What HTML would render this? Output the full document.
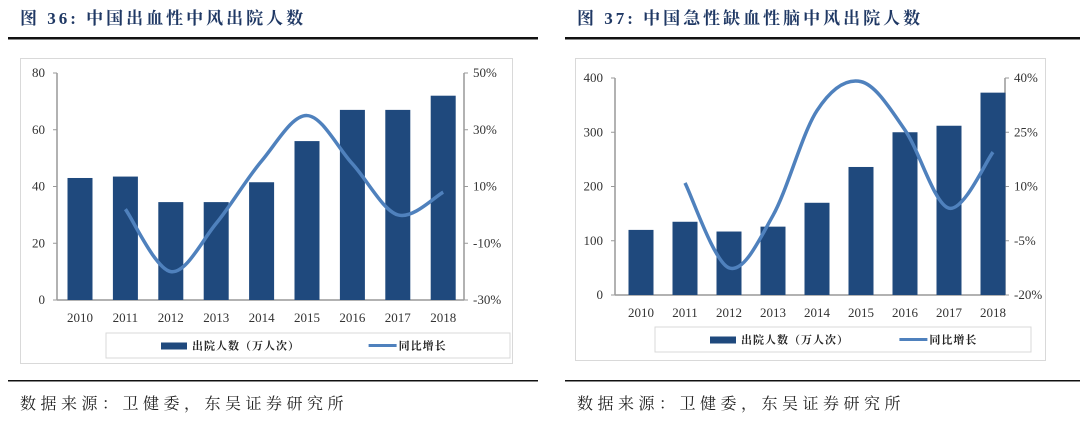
<!DOCTYPE html>
<html><head><meta charset="utf-8"><style>
body{margin:0;width:1080px;height:422px;background:#fff;overflow:hidden;font-family:"Liberation Serif","Noto Serif CJK SC",serif}
svg{position:absolute;left:0;top:0}
</style></head><body>
<svg id="s" width="1080" height="422" xmlns="http://www.w3.org/2000/svg" font-family="Liberation Serif, Noto Serif CJK SC, serif">
<text x="20" y="24" font-size="17" font-weight="bold" fill="#1f3864" letter-spacing="3">图 36:  中国出血性中风出院人数</text>
<text x="577" y="24" font-size="17" font-weight="bold" fill="#1f3864" letter-spacing="3">图 37:  中国急性缺血性脑中风出院人数</text>
<rect x="8" y="37" width="530" height="2.5" fill="#111"/>
<rect x="565" y="37" width="515" height="2.5" fill="#111"/>
<rect x="20.5" y="58.5" width="492" height="305" fill="none" stroke="#d9d9d9"/>
<rect x="575.5" y="58.5" width="470" height="302" fill="none" stroke="#d9d9d9"/>
<rect x="8" y="380" width="530" height="1.5" fill="#111"/>
<rect x="565" y="380" width="515" height="1.5" fill="#111"/>
<text x="20" y="409" font-size="16" fill="#222" letter-spacing="4.5">数据来源：卫健委，东吴证券研究所</text>
<text x="577" y="409" font-size="16" fill="#222" letter-spacing="4.5">数据来源：卫健委，东吴证券研究所</text>
<g id="g"></g>
</svg>
<script>
const g=document.getElementById('g');let h='';
function chart(o){
 const {ax,rx,top,bot,x0,dx,bw,lmax,lticks,rmin,rmax,rticks,bars,line,leg}=o;
 h+=`<line x1="${ax}" y1="${top}" x2="${ax}" y2="${bot}" stroke="#999" stroke-width="1.5"/>`;
 h+=`<line x1="${rx}" y1="${top}" x2="${rx}" y2="${bot}" stroke="#999" stroke-width="1.5"/>`;
 h+=`<line x1="${ax}" y1="${bot}" x2="${rx}" y2="${bot}" stroke="#999" stroke-width="1.5"/>`;
 lticks.forEach(v=>{const y=bot-(bot-top)*v/lmax;h+=`<line x1="${ax-4}" y1="${y}" x2="${ax}" y2="${y}" stroke="#999"/><text x="${ax-12}" y="${y+4}" font-size="13" text-anchor="end" fill="#333">${v}</text>`});
 rticks.forEach(v=>{const y=bot-(bot-top)*(v-rmin)/(rmax-rmin);h+=`<line x1="${rx}" y1="${y}" x2="${rx+4}" y2="${y}" stroke="#999"/><text x="${rx+9}" y="${y+4}" font-size="13" fill="#333">${v}%</text>`});
 bars.forEach((v,i)=>{const cx=x0+dx*i,y=bot-(bot-top)*v/lmax;h+=`<rect x="${cx-bw/2}" y="${y}" width="${bw}" height="${bot-y}" fill="#1f497d"/><text x="${cx}" y="${bot+22}" font-size="13" text-anchor="middle" fill="#333">${2010+i}</text>`});
 const p=line.map((v,i)=>[x0+dx*(i+1),bot-(bot-top)*(v-rmin)/(rmax-rmin)]);
 let d=`M${p[0][0]},${p[0][1]}`;
 for(let i=0;i<p.length-1;i++){const a=p[Math.max(i-1,0)],b=p[i],c=p[i+1],e=p[Math.min(i+2,p.length-1)];
  d+=` C${b[0]+(c[0]-a[0])/6},${b[1]+(c[1]-a[1])/6} ${c[0]-(e[0]-b[0])/6},${c[1]-(e[1]-b[1])/6} ${c[0]},${c[1]}`;}
 h+=`<path d="${d}" fill="none" stroke="#4f81bd" stroke-width="3.5"/>`;
 const [lx,ly,lw,lh]=leg;
 h+=`<rect x="${lx}" y="${ly}" width="${lw}" height="${lh}" fill="#fff" stroke="#d9d9d9"/>`;
 const my=ly+lh/2;
 h+=`<rect x="${lx+55}" y="${my-3}" width="26" height="7" fill="#1f497d"/><text x="${lx+86}" y="${my+4}" font-size="11" font-weight="bold" fill="#222" letter-spacing="1">出院人数（万人次）</text>`;
 h+=`<rect x="${lx+lw*0.65}" y="${my-1.5}" width="28" height="3" fill="#4f81bd"/><text x="${lx+lw*0.65+30}" y="${my+4}" font-size="11" font-weight="bold" fill="#222" letter-spacing="1">同比增长</text>`;
}
chart({ax:57,rx:464,top:73,bot:300,x0:80,dx:45.4,bw:25,lmax:80,lticks:[0,20,40,60,80],rmin:-30,rmax:50,rticks:[50,30,10,-10,-30],
 bars:[43,43.5,34.5,34.5,41.5,56,67,67,72],line:[2,-20,-3,19,35,18,0,8],leg:[106,333,404,25]});
chart({ax:615,rx:1005,top:78,bot:295,x0:641,dx:44,bw:25,lmax:400,lticks:[0,100,200,300,400],rmin:-20,rmax:40,rticks:[40,25,10,-5,-20],
 bars:[120,135,117,126,170,236,300,312,373],line:[11,-12.5,2,31,39,25.6,4,19.5],leg:[655,327,376,25]});
g.innerHTML=h;
</script>
</body></html>
